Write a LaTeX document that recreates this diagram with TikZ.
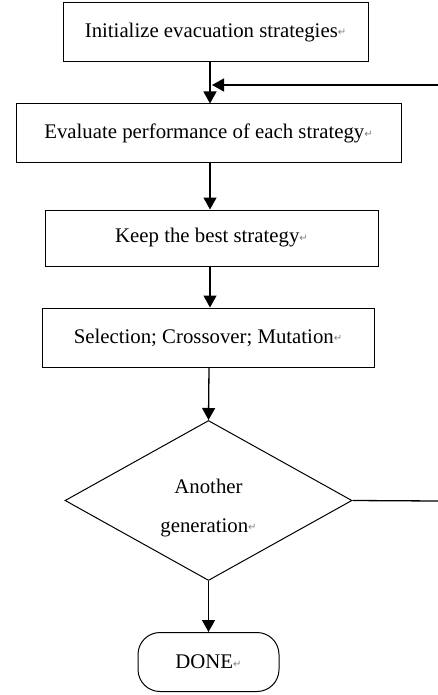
\documentclass[tikz,border=0pt]{standalone}
\usepackage{fontspec}
\setmainfont{Liberation Serif}
\newfontfamily\symf{DejaVu Sans}
\usetikzlibrary{shapes.geometric,arrows.meta}
\newcommand\retmark{{\symf\fontsize{10}{10}\selectfont\color{gray}\raisebox{1.5pt}{↵}}}
\begin{document}
\begin{tikzpicture}[x=1pt,y=-1pt,
  box/.style={draw,line width=1pt,inner sep=0pt,font=\fontsize{20.8}{39}\selectfont},
  flow/.style={line width=1.3pt,-{Triangle[width=13pt,length=12pt]}},
  plain/.style={line width=1.3pt}]
\useasboundingbox (0,0) rectangle (438,695);
\node[box,minimum width=305pt,minimum height=59pt] (b1) at (215.5,32.5) {Initialize evacuation strategies\retmark};
\node[box,minimum width=385pt,minimum height=59pt] (b2) at (208.5,133.5) {Evaluate performance of each strategy\retmark};
\node[box,minimum width=333pt,minimum height=56pt] (b3) at (211.5,238) {Keep the best strategy\retmark};
\node[box,minimum width=332pt,minimum height=59pt] (b4) at (208,337.5) {Selection; Crossover; Mutation\retmark};
\node[box,diamond,aspect=1.79,minimum width=287pt,minimum height=160pt] (d) at (208.5,500.5) {};
\node[font=\fontsize{20.8}{39}\selectfont,align=center,inner sep=0pt] (dt) at (208.5,508) {Another\\generation\retmark};
\node[box,rounded corners=22pt,minimum width=141pt,minimum height=59pt] (done) at (208.5,662) {DONE\retmark};
\coordinate (fbR) at (438,501);
\coordinate (fbT) at (438,85);
\coordinate (m) at (212,85);
\draw[flow] (b1.south -| 210,0) -- (b2.north -| 210,0);
\draw[flow] (b2.south -| 210,0) -- (b3.north -| 210,0);
\draw[flow] (b3.south -| 210,0) -- (b4.north -| 210,0);
\draw[flow] (b4.south -| 209,0) -- (d.north);
\draw[flow] (d.south) -- (done.north);
\draw[plain] (d.east) -- (fbR);
\draw[flow] (fbT) -- (m);
\end{tikzpicture}
\end{document}
